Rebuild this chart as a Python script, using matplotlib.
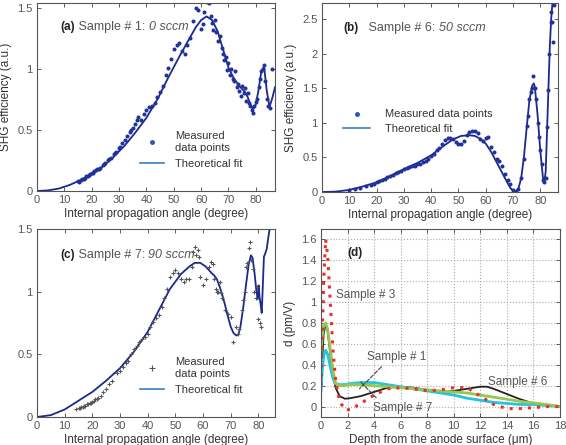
import numpy as np
import matplotlib
matplotlib.use("Agg")
import matplotlib.pyplot as plt
from matplotlib.lines import Line2D
from matplotlib.ticker import FormatStrFormatter

plt.rcParams['font.family'] = ['Liberation Sans', 'DejaVu Sans']

# ---------------- data ----------------
# (a) Sample # 1, 0 sccm
a_fit_x = [0, 4, 8, 12, 16, 20, 24, 28, 32, 36, 40, 44, 48, 52, 55, 58, 60, 62, 64, 66,
           68, 70, 72, 74, 76, 77, 78, 79, 80, 81, 82, 83, 84, 85, 86, 87]
a_fit_y = [0, 0.005, 0.02, 0.05, 0.09, 0.14, 0.2, 0.28, 0.37, 0.48, 0.6, 0.75, 0.93, 1.1, 1.22, 1.34, 1.40, 1.43, 1.40, 1.31,
           1.16, 1.01, 0.92, 0.86, 0.81, 0.77, 0.71, 0.67, 0.71, 0.83, 0.98, 1.02, 0.82, 0.69, 0.76, 0.85]
a_pts_x = [15, 15.5, 16, 16.5, 17, 17.5, 18, 18.5, 19, 19.5, 20, 20.5, 21, 21.5, 22, 22.5, 23, 24, 24.5, 25,
           26, 26.5, 27, 28, 28.5, 29, 30, 30.5, 31, 32, 33, 34, 34.5, 35, 36, 36.5, 37, 38, 39, 40,
           41, 42, 43, 44, 45, 46, 47, 48, 49, 50, 51, 52, 53, 54, 55, 56, 57, 58, 59, 60,
           60.5, 61, 62, 63, 63.5, 64, 64.5, 65, 65.5, 66, 67, 67.5, 68, 68.5, 69, 69.5, 70, 70.5, 71, 71.5,
           72, 72.5, 73, 73.5, 74, 74.5, 75, 75.5, 76, 76.5, 77, 77.5, 78, 78.5, 79, 79.5, 80, 80.5, 81, 81.5,
           82, 82.5, 83, 83.5, 84, 84.5, 85, 86]
a_pts_y = [0.08, 0.07, 0.09, 0.1, 0.1, 0.11, 0.12, 0.12, 0.13, 0.14, 0.15, 0.15, 0.16, 0.17, 0.18, 0.18, 0.19, 0.21, 0.22, 0.23,
           0.25, 0.26, 0.27, 0.3, 0.31, 0.32, 0.35, 0.36, 0.39, 0.42, 0.45, 0.48, 0.5, 0.52, 0.55, 0.58, 0.61, 0.58, 0.63, 0.66,
           0.69, 0.7, 0.72, 0.77, 0.81, 0.86, 0.95, 1.01, 1.08, 1.16, 1.2, 1.21, 1.15, 1.12, 1.2, 1.25, 1.39, 1.5, 1.48, 1.33,
           1.37, 1.47, 1.55, 1.54, 1.43, 1.38, 1.32, 1.4, 1.3, 1.23, 1.27, 1.17, 1.12, 1.07, 1.1, 0.99, 1.05, 0.95, 1.0, 0.92,
           0.9, 0.98, 0.85, 0.88, 0.82, 0.78, 0.86, 0.8, 0.84, 0.74, 0.8, 0.72, 0.7, 0.66, 0.64, 0.7, 0.73, 0.75, 0.85, 0.92,
           0.98, 1.0, 1.03, 0.9, 0.75, 0.7, 0.68, 1.0]

# (b) Sample # 6, 50 sccm
b_fit_x = [0, 5, 10, 15, 20, 25, 30, 35, 40, 44, 48, 51, 54, 56, 58, 60, 62, 64, 66, 68,
           69, 70, 71, 72, 73, 74, 75, 76, 77, 77.6, 78, 79, 80, 81, 81.5, 82, 82.5, 83, 83.5, 84, 84.5, 85]
b_fit_y = [0, 0.005, 0.03, 0.08, 0.14, 0.23, 0.33, 0.42, 0.53, 0.65, 0.76, 0.81, 0.82, 0.81, 0.77, 0.7, 0.58, 0.43, 0.28, 0.13,
           0.06, 0.02, 0.01, 0.05, 0.2, 0.5, 0.92, 1.32, 1.53, 1.57, 1.52, 1.12, 0.6, 0.2, 0.15, 0.3, 0.9, 1.5, 2.1, 2.5, 2.75, 2.9]
b_pts_x = [10, 12, 14, 16, 18, 19, 20, 21, 22, 23, 24, 25, 26, 27, 28, 29, 30, 31, 32, 33,
           34, 35, 36, 37, 38, 39, 40, 41, 42, 43, 44, 45, 46, 47, 48, 49, 50, 51, 52, 53,
           54, 55, 56, 57, 58, 59, 60, 61, 62, 63, 64, 65, 66, 67, 68, 69, 70, 71, 72, 73,
           74, 75, 75.5, 76, 76.5, 77, 77.5, 78, 78.5, 79, 79.5, 80, 80.5, 81, 81.5, 82, 82.3, 82.8, 83.3, 83.8,
           84, 84.3, 84.6, 85]
b_pts_y = [0.03, 0.05, 0.06, 0.08, 0.1, 0.12, 0.14, 0.16, 0.17, 0.19, 0.21, 0.23, 0.25, 0.27, 0.29, 0.31, 0.33, 0.35, 0.36, 0.37,
           0.38, 0.4, 0.41, 0.43, 0.45, 0.48, 0.52, 0.55, 0.6, 0.64, 0.7, 0.75, 0.78, 0.78, 0.77, 0.72, 0.7, 0.7, 0.73, 0.82,
           0.86, 0.88, 0.88, 0.85, 0.76, 0.73, 0.78, 0.79, 0.65, 0.58, 0.47, 0.45, 0.38, 0.26, 0.18, 0.12, 0.03, 0.0, 0.04, 0.2,
           0.48, 0.95, 1.1, 1.35, 1.45, 1.5, 1.68, 1.5, 1.35, 1.0, 0.8, 0.6, 0.4, 0.18, 0.15, 0.2, 0.94, 1.47, 2.0, 2.45,
           2.6, 2.45, 2.17, 2.7]

# (c) Sample # 7, 90 sccm
c_fit_x = [0, 5, 10, 15, 20, 25, 30, 35, 40, 44, 48, 52, 55, 57, 59, 61, 63, 64, 65, 66,
           67, 68, 69, 70, 71, 72, 72.8, 73.5, 74.5, 75.5, 76.5, 77.3, 77.9, 78.6, 79.3, 79.8, 80.1, 80.4, 80.8, 81.2,
           81.6, 82, 82.4, 83, 83.7, 84.5]
c_fit_y = [0, 0.015, 0.06, 0.13, 0.2, 0.29, 0.39, 0.52, 0.68, 0.85, 1.02, 1.14, 1.2, 1.23, 1.23, 1.2, 1.15, 1.13, 1.1, 1.04,
           0.97, 0.89, 0.8, 0.72, 0.67, 0.65, 0.66, 0.72, 0.87, 1.05, 1.22, 1.29, 1.27, 1.15, 1.0, 0.94, 1.05, 0.96, 0.9, 0.83,
           1.05, 1.28, 1.3, 1.34, 1.45, 1.56]
c_pts_x = [14, 15, 15.5, 16, 16.5, 17, 17.5, 18, 18.5, 19, 19.5, 20, 20.5, 21, 21.5, 22, 23, 24, 25, 26,
           27, 29, 30, 31, 32, 33, 34, 35, 36, 37, 38, 39, 40, 41, 42, 43, 44, 45, 46, 47,
           48, 49, 50, 51, 52, 53, 54, 55, 56, 56.5, 57, 57.5, 58, 58.5, 59, 60, 61, 62, 63, 63.5,
           64, 64.5, 65, 65.5, 66, 66.5, 67, 68, 69, 70, 71, 72, 72.5, 73, 74, 74.5, 75, 75.5, 76, 76.5,
           77, 77.5, 78, 78.5, 79, 79.5, 80, 80.5, 81]
c_pts_y = [0.06, 0.07, 0.07, 0.08, 0.08, 0.09, 0.09, 0.1, 0.1, 0.11, 0.11, 0.12, 0.13, 0.14, 0.14, 0.15, 0.17, 0.2, 0.22, 0.26,
           0.29, 0.35, 0.37, 0.4, 0.43, 0.45, 0.5, 0.54, 0.57, 0.6, 0.62, 0.64, 0.66, 0.72, 0.76, 0.79, 0.81, 0.88, 0.95, 1.02,
           1.12, 1.15, 1.17, 1.15, 1.1, 1.08, 1.1, 1.1, 1.2, 1.32, 1.36, 1.29, 1.33, 1.28, 1.12, 1.05, 1.1, 1.2, 1.24, 1.22,
           1.1, 1.02, 1.0, 1.0, 1.08, 0.99, 0.95, 0.85, 0.82, 0.8, 0.6, 0.72, 0.66, 0.7, 0.85, 0.93, 1.0, 1.2, 1.23, 1.35,
           1.4, 1.25, 1.18, 1.0, 0.95, 1.04, 0.78, 0.75, 0.72]

# (d) depth profiles of d
d_x = [0, 0.1, 0.2, 0.35, 0.5, 0.7, 0.9, 1.1, 1.4, 1.8, 2.2, 3, 4, 5, 6, 7, 8, 9, 10, 11,
       12, 12.5, 13, 14, 15, 16, 17, 18]
d_s3 = [0.2, 0.7, 1.2, 1.6, 1.45, 1.0, 0.55, 0.25, 0.05, -0.03, -0.03, 0.03, 0.11, 0.17, 0.18, 0.17, 0.15, 0.16, 0.18, 0.18,
        0.1, 0.06, 0.02, -0.02, -0.02, -0.01, 0.0, 0.0]
d_s6 = [0.15, 0.45, 0.7, 0.79, 0.72, 0.5, 0.3, 0.18, 0.1, 0.075, 0.08, 0.1, 0.14, 0.18, 0.19, 0.18, 0.16, 0.14, 0.15, 0.17,
        0.19, 0.19, 0.17, 0.12, 0.07, 0.03, 0.01, 0.0]
d_s1 = [0.15, 0.35, 0.48, 0.54, 0.5, 0.38, 0.27, 0.22, 0.21, 0.21, 0.22, 0.23, 0.23, 0.21, 0.19, 0.17, 0.15, 0.13, 0.11, 0.08,
        0.06, 0.05, 0.04, 0.03, 0.02, 0.02, 0.01, 0.0]
d_s7 = [0.5, 0.68, 0.78, 0.8, 0.74, 0.55, 0.35, 0.22, 0.2, 0.2, 0.21, 0.21, 0.2, 0.19, 0.18, 0.17, 0.16, 0.15, 0.14, 0.13,
        0.11, 0.1, 0.09, 0.07, 0.05, 0.035, 0.02, 0.0]

angle_ticks = [0, 10, 20, 30, 40, 50, 60, 70, 80]
depth_ticks = [0, 2, 4, 6, 8, 10, 12, 14, 16, 18]
d_ticks = [0, 0.2, 0.4, 0.6, 0.8, 1.0, 1.2, 1.4, 1.6]

navy = '#1b2a8c'
dotc = '#22329c'
legline = '#3a7fc2'
gray = '#555555'

fig = plt.figure(figsize=(5.66, 4.45), dpi=100)
ax_a = fig.add_axes([37/566, 1-191/445, 238/566, 188/445])
ax_b = fig.add_axes([322/566, 1-192/445, 236/566, 189/445])
ax_c = fig.add_axes([37/566, 1-417/445, 238/566, 188/445])
ax_d = fig.add_axes([321/566, 1-417/445, 239/566, 188/445])


def style(ax):
    ax.tick_params(direction='in', top=True, right=True, length=3, width=0.6,
                   labelsize=8, labelcolor=gray, colors='#444444', pad=3)
    for s in ax.spines.values():
        s.set_color('#555555')
        s.set_linewidth(0.8)
    ax.yaxis.set_major_formatter(FormatStrFormatter('%g'))
    ax.xaxis.set_major_formatter(FormatStrFormatter('%g'))


def title(ax, x, y, tag, name, cond, gap=' '):
    t1 = ax.text(x, y, tag, transform=ax.transAxes, fontsize=8.5, weight='bold',
                 color='#222222', va='center')
    t2 = ax.annotate(gap + name, xy=(1, 0.5), xycoords=t1, va='center', ha='left',
                     fontsize=9, color=gray)
    ax.annotate(cond, xy=(1, 0.5), xycoords=t2, va='center', ha='left',
                fontsize=9, color=gray, style='italic')


lab = dict(fontsize=8.5, color='#333333')

# (a)
ax_a.plot(a_fit_x, a_fit_y, color=navy, lw=1.3)
ax_a.plot(a_pts_x, a_pts_y, '.', color=dotc, ms=3.8)
ax_a.set_xlim(0, 87)
ax_a.set_ylim(0, 1.54)
ax_a.set_xticks(angle_ticks)
ax_a.set_yticks([0, 0.5, 1, 1.5])
style(ax_a)
ax_a.set_xlabel('Internal propagation angle (degree)', labelpad=2, **lab)
ax_a.set_ylabel('SHG efficiency (a.u.)', labelpad=4, **lab)
title(ax_a, 0.10, 0.872, '(a)', 'Sample # 1: ', '0 sccm')
h_a = [Line2D([], [], ls='none', marker='.', color='#2a55b5', ms=5),
       Line2D([], [], color=legline, lw=1.2)]
ax_a.legend(h_a, ['Measured\ndata points', 'Theoretical fit'], loc='upper left',
            bbox_to_anchor=(0.39, 0.37), frameon=False, fontsize=8, handlelength=2.2,
            handletextpad=1.0, labelspacing=0.5, labelcolor='#333333')

# (b)
ax_b.plot(b_fit_x, b_fit_y, color=navy, lw=1.3)
ax_b.plot(b_pts_x, b_pts_y, '.', color=dotc, ms=3.8)
ax_b.set_xlim(0, 86.5)
ax_b.set_ylim(0, 2.73)
ax_b.set_xticks(angle_ticks)
ax_b.set_yticks([0, 0.5, 1, 1.5, 2, 2.5])
style(ax_b)
ax_b.set_xlabel('Internal propagation angle (degree)', labelpad=2, **lab)
ax_b.set_ylabel('SHG efficiency (a.u.)', labelpad=4, **lab)
title(ax_b, 0.089, 0.868, '(b)', 'Sample # 6: ', '50 sccm', gap='   ')
h_b = [Line2D([], [], ls='none', marker='.', color='#2a55b5', ms=5),
       Line2D([], [], color=legline, lw=1.2)]
ax_b.legend(h_b, ['Measured data points', 'Theoretical fit'], loc='upper left',
            bbox_to_anchor=(0.045, 0.49), frameon=False, fontsize=8, handlelength=2.5,
            handletextpad=1.3, labelspacing=0.4, labelcolor='#333333')

# (c)
ax_c.plot(c_fit_x, c_fit_y, color=navy, lw=1.3)
ax_c.plot(c_pts_x, c_pts_y, '+', color='#555555', ms=3.5, mew=0.8)
ax_c.set_xlim(0, 86)
ax_c.set_ylim(0, 1.5)
ax_c.set_xticks(angle_ticks)
ax_c.set_yticks([0, 0.5, 1, 1.5])
style(ax_c)
ax_c.set_xlabel('Internal propagation angle (degree)', labelpad=2, **lab)
title(ax_c, 0.097, 0.862, '(c)', 'Sample # 7: ', '90 sccm')
h_c = [Line2D([], [], ls='none', marker='+', color='#555555', ms=4, mew=0.8),
       Line2D([], [], color=legline, lw=1.2)]
ax_c.legend(h_c, ['Measured\ndata points', 'Theoretical fit'], loc='upper left',
            bbox_to_anchor=(0.39, 0.37), frameon=False, fontsize=8, handlelength=2.2,
            handletextpad=1.0, labelspacing=0.5, labelcolor='#333333')

# (d)
ax_d.grid(True, ls=':', color='#aaaaaa', lw=0.8)
ax_d.plot(d_x, d_s6, color='#222222', lw=1.3)
ax_d.plot(d_x, d_s1, color='#22c4e0', lw=2.0)
ax_d.plot(d_x, d_s7, color='#96c850', lw=2.0)
ax_d.plot(d_x, d_s3, ls=(0, (1, 2)), color='#e8302a', lw=2.2)
ax_d.set_xlim(0, 18)
ax_d.set_ylim(-0.1, 1.7)
ax_d.set_xticks(depth_ticks)
ax_d.set_yticks(d_ticks)
style(ax_d)
ax_d.set_xlabel('Depth from the anode surface (\u03bcm)', labelpad=2, **lab)
ax_d.set_ylabel('d (pm/V)', labelpad=4, **lab)
ax_d.text(2.0, 1.47, '(d)', fontsize=8.5, weight='bold', color='#222222', va='center')
ax_d.text(1.1, 1.07, 'Sample # 3', fontsize=8.5, color=gray, va='center')
ax_d.text(12.6, 0.235, 'Sample # 6', fontsize=8.5, color=gray, va='center')
ax_d.annotate('Sample # 1', xy=(2.9, 0.17), xytext=(3.5, 0.475), fontsize=8.5, color=gray,
              va='center', arrowprops=dict(arrowstyle='-', ls='--', lw=0.8, color='#444444',
                                           relpos=(0.3, 0), shrinkA=1, shrinkB=0))
ax_d.annotate('Sample # 7', xy=(3.0, 0.235), xytext=(3.9, -0.01), fontsize=8.5, color=gray,
              va='center', arrowprops=dict(arrowstyle='-', ls='--', lw=0.8, color='#444444',
                                           relpos=(0.12, 1), shrinkA=1, shrinkB=0))

fig.savefig('out.png', dpi=100)
